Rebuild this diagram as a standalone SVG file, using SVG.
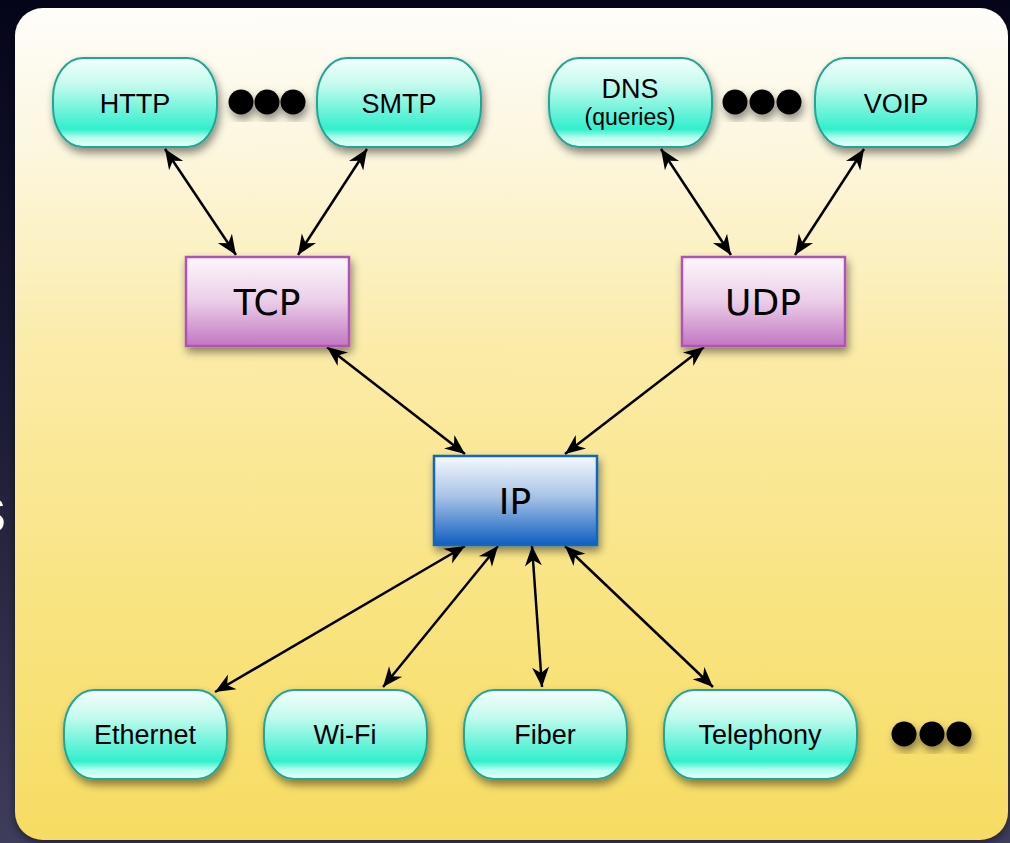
<svg xmlns="http://www.w3.org/2000/svg" width="1010" height="843" viewBox="0 0 1010 843">
  <defs>
    <linearGradient id="bgGrad" x1="0" y1="0" x2="0" y2="1">
      <stop offset="0" stop-color="#05051a"/>
      <stop offset="0.5" stop-color="#1c1c36"/>
      <stop offset="1" stop-color="#3e3e5c"/>
    </linearGradient>
    <linearGradient id="panelGrad" x1="0" y1="0" x2="0" y2="1">
      <stop offset="0" stop-color="#fefdfa"/>
      <stop offset="0.18" stop-color="#fcf6dc"/>
      <stop offset="0.42" stop-color="#fbeba6"/>
      <stop offset="0.7" stop-color="#f9e483"/>
      <stop offset="1" stop-color="#f7dc62"/>
    </linearGradient>
    <linearGradient id="cyanGrad" x1="0" y1="0" x2="0" y2="1">
      <stop offset="0" stop-color="#f4fffd"/>
      <stop offset="0.3" stop-color="#c4faee"/>
      <stop offset="0.7" stop-color="#4ef1d4"/>
      <stop offset="0.8" stop-color="#2ff0cc"/>
      <stop offset="0.9" stop-color="#bafdf0"/>
      <stop offset="1" stop-color="#e6fffa"/>
    </linearGradient>
    <linearGradient id="purpleGrad" x1="0" y1="0" x2="0" y2="1">
      <stop offset="0" stop-color="#fdf7fc"/>
      <stop offset="0.5" stop-color="#ebcde8"/>
      <stop offset="1" stop-color="#c277c3"/>
    </linearGradient>
    <linearGradient id="blueGrad" x1="0" y1="0" x2="0" y2="1">
      <stop offset="0" stop-color="#f6f9fd"/>
      <stop offset="0.45" stop-color="#a9c4e6"/>
      <stop offset="1" stop-color="#0f5fc0"/>
    </linearGradient>
    <filter id="shadow" x="-20%" y="-20%" width="140%" height="150%">
      <feDropShadow dx="2" dy="5" stdDeviation="4" flood-color="#000" flood-opacity="0.45"/>
    </filter>
    <filter id="panelShadow" x="-5%" y="-5%" width="110%" height="110%">
      <feDropShadow dx="0" dy="3" stdDeviation="5" flood-color="#000" flood-opacity="0.5"/>
    </filter>
    <!-- barbed arrowhead used at both ends of every connector -->
    <marker id="barb" viewBox="-22 -10 24 20" refX="0" refY="0" markerWidth="24" markerHeight="20" markerUnits="userSpaceOnUse" orient="auto-start-reverse">
      <path d="M0,0 L-20,-8.5 L-14,0 L-20,8.5 Z" fill="#000"/>
    </marker>
  </defs>
  <style>
    .pill { fill: url(#cyanGrad); stroke: #22a594; stroke-width: 2; filter: url(#shadow); }
    .tcp { fill: url(#purpleGrad); stroke: #b153b4; stroke-width: 2.5; filter: url(#shadow); }
    .ip { fill: url(#blueGrad); stroke: #1463c0; stroke-width: 2.5; filter: url(#shadow); }
    .lbl { font-family: "Liberation Sans", Arial, sans-serif; font-size: 27px; fill: #000; text-anchor: middle; }
    .sub { font-size: 23px; }
    .big { font-family: "DejaVu Sans", Verdana, sans-serif; font-size: 36px; fill: #000; text-anchor: middle; }
    .dots circle { fill: #000; }
    .dots { filter: url(#shadow); }
    #connectors line { stroke: #000; stroke-width: 2.5; marker-start: url(#barb); marker-end: url(#barb); }
  </style>

  <!-- backdrop and stage panel -->
  <rect x="0" y="0" width="1010" height="843" fill="url(#bgGrad)"/>
  <text x="6" y="532" font-family="Liberation Sans, Arial, sans-serif" font-size="64" fill="#ffffff" text-anchor="end">s</text>
  <rect x="15" y="8" width="993" height="832" rx="28" ry="28" fill="url(#panelGrad)" filter="url(#panelShadow)"/>

  <!-- connectors -->
  <g id="connectors">
    <line x1="165" y1="149" x2="236" y2="255"/>
    <line x1="367" y1="149" x2="298" y2="255"/>
    <line x1="661" y1="149" x2="731" y2="255"/>
    <line x1="864" y1="149" x2="795" y2="255"/>
    <line x1="327" y1="347" x2="465" y2="454"/>
    <line x1="704" y1="347" x2="565" y2="454"/>
    <line x1="465" y1="546" x2="215" y2="692"/>
    <line x1="498" y1="546" x2="383" y2="687"/>
    <line x1="532" y1="546" x2="542" y2="687"/>
    <line x1="565" y1="546" x2="713" y2="687"/>
  </g>

  <!-- application layer -->
  <g id="node-http">
    <rect class="pill" x="53" y="58" width="164" height="89" rx="30" ry="40"/>
    <text class="lbl" x="135" y="113">HTTP</text>
  </g>
  <g id="dots-app-tcp" class="dots">
    <circle cx="241" cy="102" r="12.5"/>
    <circle cx="267" cy="102" r="12.5"/>
    <circle cx="293" cy="102" r="12.5"/>
  </g>
  <g id="node-smtp">
    <rect class="pill" x="317" y="58" width="164" height="89" rx="30" ry="40"/>
    <text class="lbl" x="399" y="113">SMTP</text>
  </g>
  <g id="node-dns">
    <rect class="pill" x="549" y="58" width="163" height="89" rx="30" ry="40"/>
    <text class="lbl" x="630" y="98">DNS</text>
    <text class="lbl sub" x="630" y="125">(queries)</text>
  </g>
  <g id="dots-app-udp" class="dots">
    <circle cx="735" cy="102" r="12.5"/>
    <circle cx="762" cy="102" r="12.5"/>
    <circle cx="789" cy="102" r="12.5"/>
  </g>
  <g id="node-voip">
    <rect class="pill" x="815" y="58" width="162" height="89" rx="30" ry="40"/>
    <text class="lbl" x="896" y="113">VOIP</text>
  </g>

  <!-- transport layer -->
  <g id="node-tcp">
    <rect class="tcp" x="186" y="257" width="163" height="89"/>
    <text class="big" x="267" y="315">TCP</text>
  </g>
  <g id="node-udp">
    <rect class="tcp" x="682" y="257" width="163" height="89"/>
    <text class="big" x="763" y="315">UDP</text>
  </g>

  <!-- network layer -->
  <g id="node-ip">
    <rect class="ip" x="434" y="456" width="163" height="89"/>
    <text class="big" x="515" y="514">IP</text>
  </g>

  <!-- link layer -->
  <g id="node-ethernet">
    <rect class="pill" x="64" y="690" width="163" height="89" rx="30" ry="40"/>
    <text class="lbl" x="145" y="744">Ethernet</text>
  </g>
  <g id="node-wifi">
    <rect class="pill" x="264" y="690" width="163" height="89" rx="30" ry="40"/>
    <text class="lbl" x="345" y="744">Wi-Fi</text>
  </g>
  <g id="node-fiber">
    <rect class="pill" x="464" y="690" width="163" height="89" rx="30" ry="40"/>
    <text class="lbl" x="545" y="744">Fiber</text>
  </g>
  <g id="node-telephony">
    <rect class="pill" x="664" y="690" width="193" height="89" rx="30" ry="40"/>
    <text class="lbl" x="760" y="744">Telephony</text>
  </g>
  <g id="dots-link" class="dots">
    <circle cx="904" cy="734" r="12.5"/>
    <circle cx="932" cy="734" r="12.5"/>
    <circle cx="959" cy="734" r="12.5"/>
  </g>
</svg>
